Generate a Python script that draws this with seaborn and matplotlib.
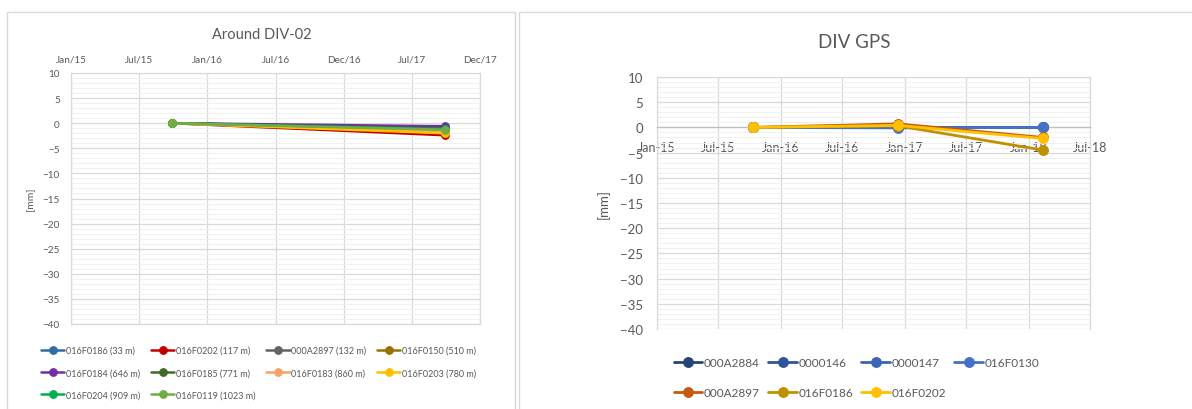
import numpy as np
import pandas as pd
import matplotlib
matplotlib.use("Agg")
import matplotlib.pyplot as plt
import matplotlib.dates as mdates
from matplotlib.ticker import MultipleLocator
from matplotlib.patches import Rectangle
import seaborn as sns

# ---------------- data ----------------
left_title = "Around DIV-02"
left_dates = ["2015-09-21", "2017-08-31"]
left_series = ["016F0186 (33 m)", "016F0202 (117 m)", "000A2897 (132 m)", "016F0150 (510 m)",
               "016F0184 (646 m)", "016F0185 (771 m)", "016F0183 (860 m)", "016F0203 (780 m)",
               "016F0204 (909 m)", "016F0119 (1023 m)"]
left_values = [[0, -1.0], [0, -2.4], [0, -1.5], [0, -1.8], [0, -0.6],
               [0, -1.1], [0, -1.7], [0, -2.0], [0, -1.2], [0, -1.3]]
left_colors = ["#2E6DA4", "#C00000", "#636363", "#997300", "#7030A0",
               "#43682B", "#F4A46A", "#FFC000", "#00B050", "#70AD47"]
left_xticklabels = ["Jan/15", "Jul/15", "Jan/16", "Jul/16", "Dec/16", "Jul/17", "Dec/17"]

right_title = "DIV GPS"
right_dates = ["2015-10-11", "2016-12-12", "2018-02-12"]
right_series = ["000A2884", "0000146", "0000147", "016F0130", "000A2897", "016F0186", "016F0202"]
right_values = [[0, 0, 0], [0, 0, 0], [0, 0, 0], [0, -0.1, 0],
                [0, 0.7, -2.0], [0, 0.3, -4.5], [0, 0.4, -2.2]]
right_colors = ["#264478", "#2E5597", "#3A66B5", "#4472C4", "#C55A11", "#BF9000", "#FFC000"]
right_xticklabels = ["Jan-15", "Jul-15", "Jan-16", "Jul-16", "Jan-17", "Jul-17", "Jan-18", "Jul-18"]
right_xtickdates = ["2015-01-01", "2015-07-01", "2016-01-01", "2016-07-01",
                    "2017-01-01", "2017-07-01", "2018-01-01", "2018-07-01"]

ylim = (-40, 10)
ylabel = "[mm]"

# ---------------- style ----------------
sns.set_theme(style="white")
plt.rcParams["font.family"] = ["Lato", "DejaVu Sans"]
txt = "#595959"
grid_major = "#D9D9D9"
grid_minor = "#F0F0F0"

fig = plt.figure(figsize=(11.92, 4.10), dpi=100)
W, H = 1192, 410

def fx(px):
    return px / W

def fy(py):
    return 1 - py / H

# panel frames
fig.add_artist(Rectangle((fx(7), fy(412)), fx(508), fy(13) - fy(412), transform=fig.transFigure,
                         fill=False, edgecolor="#D9D9D9", lw=1.0))
fig.add_artist(Rectangle((fx(519), fy(412)), fx(680), fy(13) - fy(412), transform=fig.transFigure,
                         fill=False, edgecolor="#D9D9D9", lw=1.0))

def style_axes(ax, fs):
    ax.set_ylim(*ylim)
    ax.yaxis.set_major_locator(MultipleLocator(5))
    ax.yaxis.set_minor_locator(MultipleLocator(1))
    ax.grid(which="minor", axis="y", color=grid_minor, lw=0.7)
    ax.grid(which="major", axis="both", color=grid_major, lw=0.9)
    ax.set_axisbelow(True)
    for s in ax.spines.values():
        s.set_color(grid_major)
        s.set_linewidth(0.9)
    ax.tick_params(axis="both", which="both", length=0, colors=txt, labelsize=fs)
    ax.set_xlabel("")

# ---------------- left panel ----------------
axL = fig.add_axes([fx(71), fy(325), fx(480 - 71), fy(74) - fy(325)])
ld = pd.to_datetime(left_dates)
for name, vals, col in zip(left_series, left_values, left_colors):
    sns.lineplot(x=ld, y=vals, ax=axL, color=col, lw=1.8, marker="o", markersize=5.5,
                 markeredgecolor=col, markeredgewidth=0.8, label=name, zorder=3)
lx0 = mdates.date2num(pd.Timestamp("2015-01-01"))
lx1 = mdates.date2num(pd.Timestamp("2017-12-01"))
axL.set_xlim(lx0, lx1)
axL.set_xticks(np.linspace(lx0, lx1, len(left_xticklabels)))
axL.set_xticklabels(left_xticklabels)
axL.xaxis.tick_top()
style_axes(axL, 7.2)
axL.tick_params(axis="x", pad=7)
axL.tick_params(axis="y", pad=8)
axL.set_ylabel(ylabel, color=txt, fontsize=7.5, labelpad=5)
fig.text(fx(262), fy(35), left_title, color=txt, fontsize=10.5, ha="center", va="center")
hL, lL = axL.get_legend_handles_labels()
orderL = [0, 4, 8, 1, 5, 9, 2, 6, 3, 7]
axL.legend([hL[i] for i in orderL], [lL[i] for i in orderL], ncol=4, loc="upper left",
           bbox_to_anchor=(fx(41), fy(347)), bbox_transform=fig.transFigure, frameon=False,
           fontsize=6.5, labelcolor=txt, handlelength=2.6, handletextpad=0.2, columnspacing=1.15,
           labelspacing=1.45, borderaxespad=0, borderpad=0)

# ---------------- right panel ----------------
axR = fig.add_axes([fx(657), fy(330), fx(1090 - 657), fy(78) - fy(330)])
rd = pd.to_datetime(right_dates)
for name, vals, col in zip(right_series, right_values, right_colors):
    sns.lineplot(x=rd, y=vals, ax=axR, color=col, lw=2.0, marker="o", markersize=7,
                 markeredgecolor=col, markeredgewidth=0.8, label=name, zorder=3)
rt = mdates.date2num(pd.to_datetime(right_xtickdates))
axR.set_xlim(rt[0], rt[-1])
axR.set_xticks(rt)
axR.set_xticklabels(right_xticklabels)
style_axes(axR, 9)
axR.spines["bottom"].set_position(("data", 0))
axR.spines["bottom"].set_color("#BFBFBF")
axR.tick_params(axis="x", pad=10)
axR.tick_params(axis="y", pad=10, labelsize=9.5)
axR.set_ylabel(ylabel, color=txt, fontsize=9.5, labelpad=7)
fig.text(fx(854), fy(43), right_title, color=txt, fontsize=13.5, ha="center", va="center")
hR, lR = axR.get_legend_handles_labels()
orderR = [0, 4, 1, 5, 2, 6, 3]
axR.legend([hR[i] for i in orderR], [lR[i] for i in orderR], ncol=4, loc="upper left",
           bbox_to_anchor=(fx(674), fy(358)), bbox_transform=fig.transFigure, frameon=False,
           fontsize=8.5, labelcolor=txt, handlelength=2.4, handletextpad=0.15, columnspacing=0.7,
           labelspacing=1.6, borderaxespad=0, borderpad=0)

fig.savefig("out.png", dpi=100, facecolor="white")
